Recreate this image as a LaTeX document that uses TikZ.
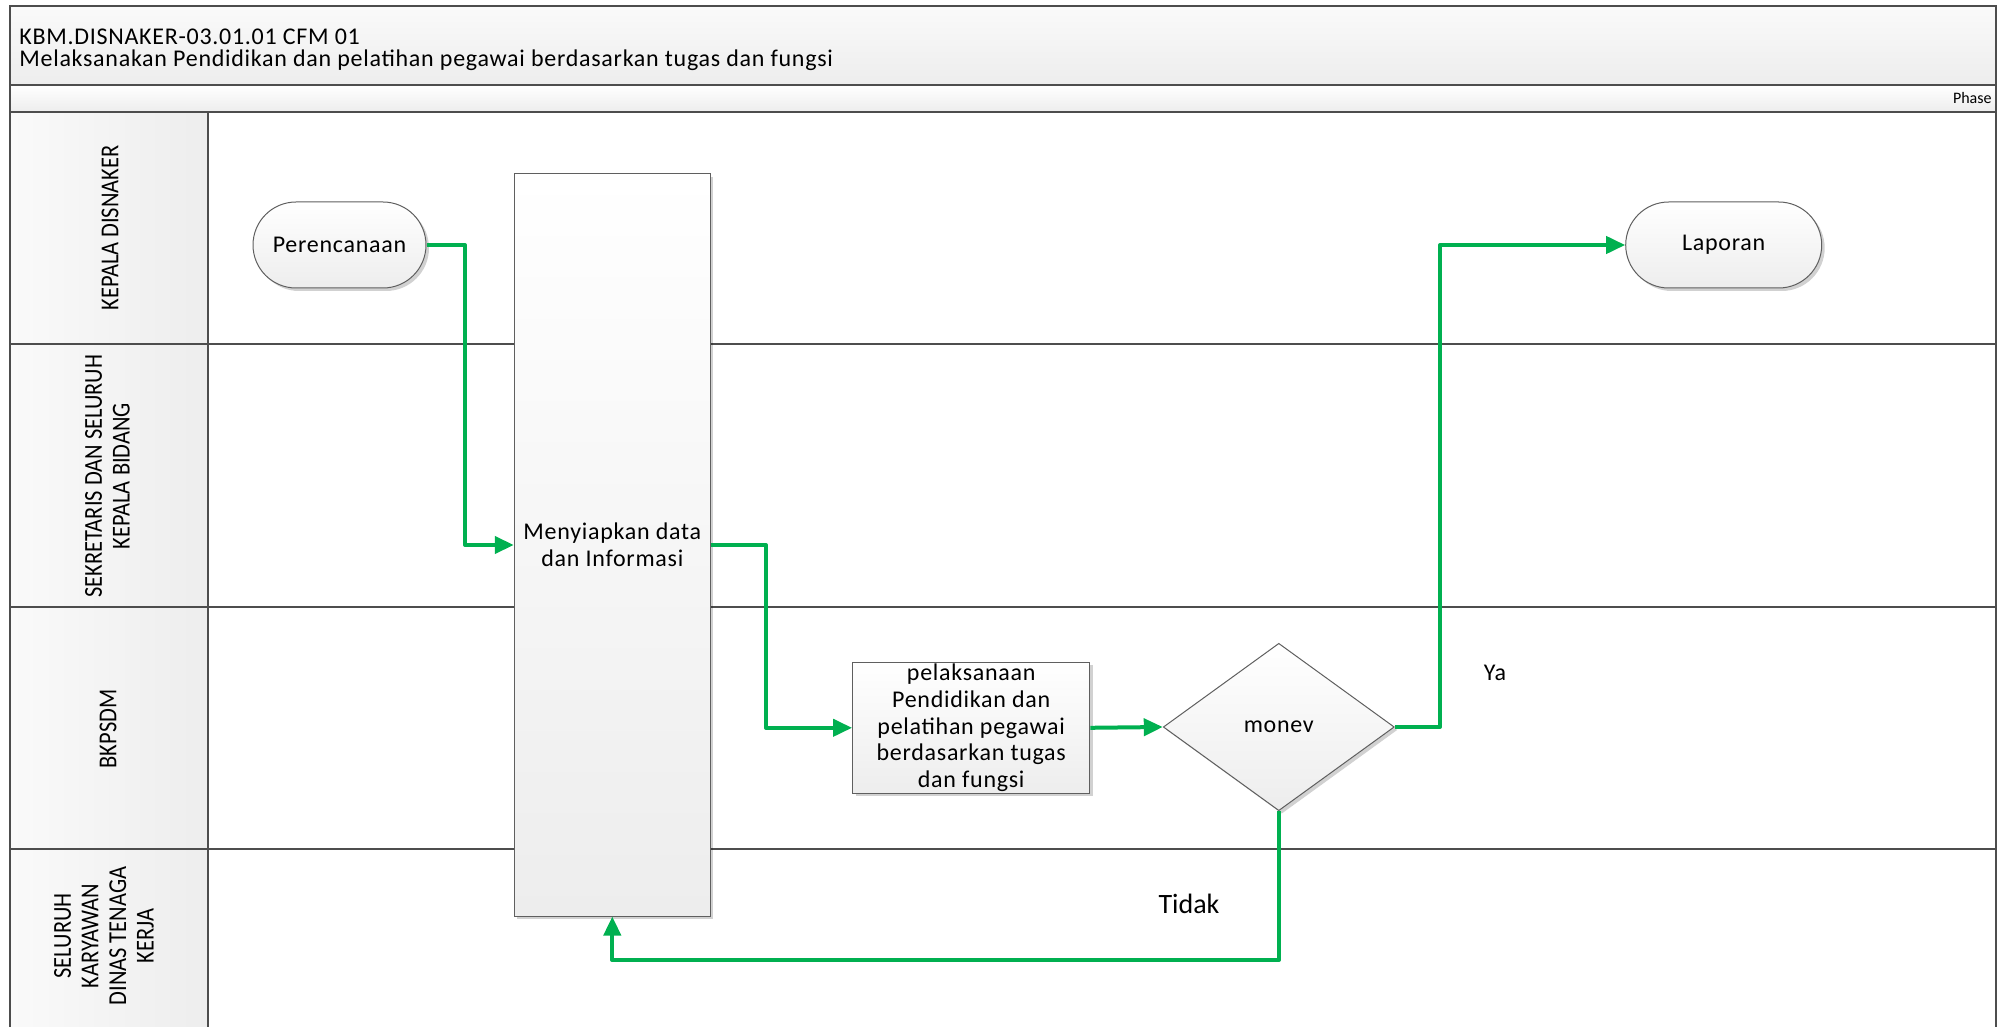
\documentclass[tikz,border=0pt]{standalone}
\usepackage{fontspec}
\setmainfont{Carlito}
\newfontfamily\lanefont{Carlito}[FakeStretch=0.87]
\usetikzlibrary{arrows.meta,shapes.geometric,shadows}

\definecolor{flowgreen}{RGB}{0,176,80}
\definecolor{laneline}{RGB}{77,77,77}
\definecolor{shapeline}{RGB}{95,95,95}
\definecolor{fillbot}{RGB}{237,237,237}
\definecolor{bandtop}{RGB}{250,250,250}

\begin{document}
\begin{tikzpicture}[x=0.5pt,y=-0.5pt,
  lanerule/.style={draw=laneline,line width=1.1pt},
  flow/.style={draw=flowgreen,line width=2pt,line join=round,-{Triangle[length=9.5pt,width=8.5pt]}},
  shapefill/.style={top color=white,bottom color=fillbot,draw=shapeline,line width=0.5pt},
  softshadow/.style={drop shadow={shadow xshift=1.5pt,shadow yshift=-1.5pt,opacity=0.18,fill=black}},
  terminal/.style={shapefill,softshadow,rounded corners=21.5pt,minimum height=43pt,inner sep=0pt},
  process/.style={shapefill,softshadow,rectangle,inner sep=0pt,align=center},
  decision/.style={shapefill,softshadow,diamond,inner sep=0pt},
  nodetext/.style={font=\fontsize{12}{13.3}\selectfont\addfontfeatures{LetterSpace=3}},
  lanelabel/.style={rotate=90,align=center,font=\lanefont\fontsize{12.9}{13.8}\selectfont},
  headtext/.style={anchor=base west,inner sep=0pt,font=\fontsize{12}{14}\selectfont\addfontfeatures{LetterSpace=3}}
]
\useasboundingbox (0,0) rectangle (1999,1027);

% header bands and lane label column
\shade[top color=bandtop,bottom color=fillbot] (10,6) rectangle (1996,85);
\shade[top color=white,bottom color=fillbot] (10,85) rectangle (1996,112);
\shade[left color=bandtop,right color=fillbot] (10,112) rectangle (208,1040);

% frame and lane rules
\draw[lanerule] (10,1040) -- (10,6) -- (1996,6) -- (1996,1040);
\draw[lanerule] (10,85) -- (1996,85);
\draw[lanerule] (10,112) -- (1996,112);
\draw[lanerule] (208,112) -- (208,1040);
\draw[lanerule] (10,344) -- (1996,344);
\draw[lanerule] (10,607) -- (1996,607);
\draw[lanerule] (10,849) -- (1996,849);

% header texts
\node[headtext] (code) at (19,45) {KBM.DISNAKER-03.01.01 CFM 01};
\node[headtext] (title) at (19,67) {Melaksanakan Pendidikan dan pelatihan pegawai berdasarkan tugas dan fungsi};
\node[anchor=east,inner sep=0pt,font=\fontsize{8}{9}\selectfont] (phase) at (1992,98) {Phase};

% lane labels
\node[lanelabel] (lane1) at (110,228) {KEPALA DISNAKER};
\node[lanelabel] (lane2) at (107.5,476) {SEKRETARIS DAN SELURUH\\KEPALA BIDANG};
\node[lanelabel] (lane3) at (108,729) {BKPSDM};
\node[lanelabel] (lane4) at (104,936) {SELURUH\\KARYAWAN\\DINAS TENAGA\\KERJA};

% flow shapes
\node[terminal,nodetext,minimum width=86.5pt] (perenc) at (339.5,245) {Perencanaan};
\node[terminal,nodetext,minimum width=98pt] (lapor) at (1723.7,245) {Laporan};
\node[process,nodetext,minimum width=98pt,minimum height=371pt] (prep) at (612.3,545) {Menyiapkan data\\dan Informasi};
\node[process,nodetext,minimum width=118.6pt,minimum height=65.5pt] (exec) at (971.2,727.8)
  {pelaksanaan\\Pendidikan dan\\pelatihan pegawai\\berdasarkan tugas\\dan fungsi};
\node[decision,nodetext,minimum width=115.5pt,minimum height=83.7pt] (monev) at (1278.8,727) {monev};

% decision labels
\node[nodetext] (yes) at (1495,673) {Ya};
\node[font=\fontsize{14}{16}\selectfont] (no) at (1189,904) {Tidak};

% connectors
\draw[flow] (perenc.east) -- (465,245) |- (prep.west);
\draw[flow] (prep.east) -- (766,545) |- (exec.west);
\draw[flow] (exec.east) -- (monev.west);
\draw[flow] (monev.east) -- (1440,727) |- (lapor.west);
\draw[flow] (monev.south) |- (612.3,960) -- (prep.south);
\end{tikzpicture}
\end{document}
